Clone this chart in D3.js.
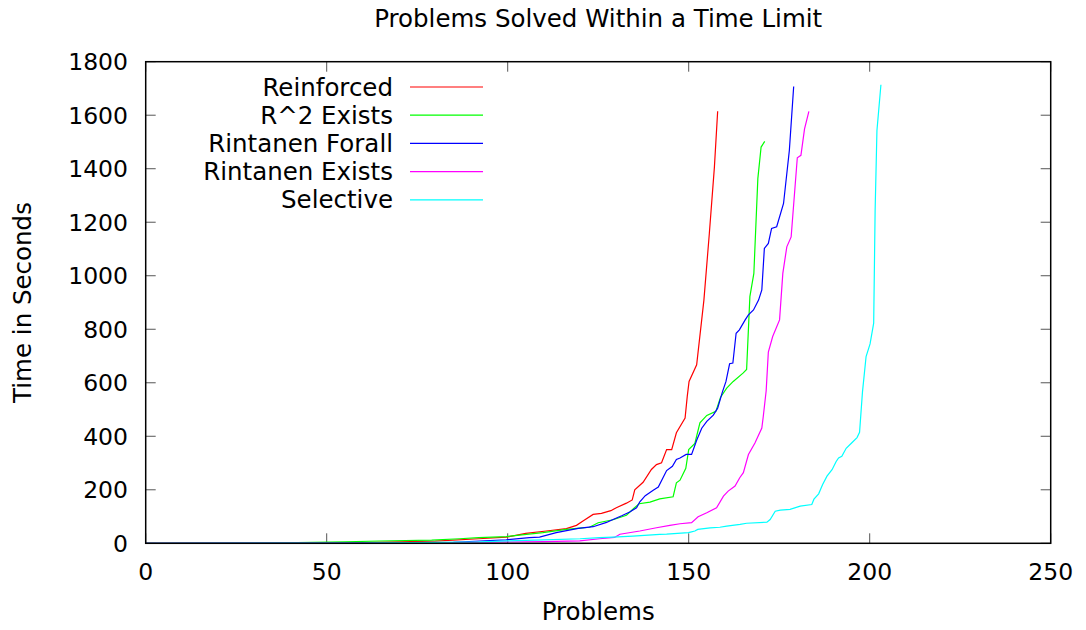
<!DOCTYPE html>
<html>
<head>
<meta charset="utf-8">
<script src="https://d3js.org/d3.v7.min.js"></script>
<style>
  body { margin: 0; background: #fff; }
  text { font-family: "DejaVu Sans", sans-serif; fill: #000; }
</style>
</head>
<body>
<div id="chart"></div>
<script>
document.addEventListener("DOMContentLoaded", function() {

  // --- Data (problem number, seconds) ---
  const reinforcedN = [0, 40, 60, 80, 92, 99.6, 105, 110.7, 116.2, 119, 120.8, 123.6, 125.9, 128.5, 130, 132.8, 134.4, 135.1, 137.4, 139.7, 141.1, 142.5, 143.9, 145.3, 146.6, 149, 149.6, 150.1, 152.2, 154.2, 155.7, 157.1, 158];
  const reinforcedT = [0, 1, 3, 8, 17, 23, 37, 46, 55, 67, 83, 108, 112, 122, 133, 150, 162, 200, 228, 276, 294, 301, 350, 350, 413, 468, 549, 605, 667, 909, 1158, 1406, 1615];

  const r2ExistsN = [0, 30, 42, 55, 64.5, 79, 86.7, 92, 99.6, 109.7, 116.2, 119.9, 122.6, 125, 129.1, 132.8, 134.8, 136.3, 139.3, 142, 145.7, 146.6, 147.6, 149.2, 150, 151.7, 153.1, 155, 157.5, 158.8, 160.5, 162.3, 165, 166, 166.9, 168, 169.1, 170, 171];
  const r2ExistsT = [0, 0.5, 2.6, 5, 8.6, 12, 17, 21, 25, 40, 52, 57, 60, 77, 88, 105, 130, 148, 154, 166, 174, 226, 236, 280, 350, 373, 450, 478, 493, 546, 580, 605, 636, 650, 922, 1009, 1363, 1481, 1502];

  const forallN = [0, 50, 70, 85, 92.2, 99.6, 106, 108.8, 113.4, 119.5, 123.6, 127.3, 129.1, 131.5, 133.7, 135.6, 136.5, 138, 140.2, 141.6, 142.9, 143.9, 145.5, 146.6, 147.6, 149.3, 150.8, 152.2, 153.6, 155, 156.8, 158, 159.3, 160.3, 161.3, 162.2, 163.1, 164, 165.6, 166.5, 167.9, 169.3, 170.2, 170.9, 172, 172.9, 174.3, 176.2, 177.8, 179];
  const forallT = [0, 0.5, 1.5, 4, 8.6, 13, 21, 23, 40, 56, 62, 78, 89, 103, 117, 133, 155, 178, 198, 210, 245, 272, 288, 313, 319, 332, 332, 385, 430, 456, 479, 505, 565, 605, 671, 674, 785, 798, 835, 854, 872, 909, 947, 1102, 1121, 1177, 1183, 1270, 1468, 1707];

  const existsN = [0, 60, 92, 110, 119.9, 125.4, 129.5, 131, 136.5, 141.1, 144.8, 147.6, 150.8, 152.6, 155, 157.7, 159.6, 160.9, 162.8, 164.1, 165.1, 166.5, 168.3, 170.2, 170.6, 171.4, 172, 173.2, 175.1, 176, 177.1, 178.3, 180, 181, 182, 183.2];
  const existsT = [0, 1, 4, 6, 9, 17, 22, 34, 46, 58, 67, 73, 77, 99, 114, 133, 176, 195, 214, 245, 264, 332, 375, 431, 474, 570, 715, 773, 835, 1009, 1108, 1145, 1441, 1450, 1549, 1614];

  const selectiveN = [0, 60, 92, 100, 110, 120, 125.4, 129.1, 134.6, 142, 143.9, 149.9, 150.5, 151.7, 152.5, 155.9, 158.6, 160.5, 164.2, 166, 171.6, 172.5, 173.9, 175.3, 178, 180.8, 184, 184.6, 185.9, 187, 188.2, 189.6, 190.7, 191.4, 192.3, 193.5, 195, 196.5, 197.2, 198, 199, 200.1, 201.1, 201.5, 202, 203.1];
  const selectiveT = [0, 1, 5, 9, 13, 17, 21, 23, 27, 33, 34, 40, 42, 46, 52, 58, 60, 64, 71, 75, 79, 89, 120, 124, 127, 139, 145, 165, 185, 220, 251, 275, 305, 319, 325, 355, 375, 395, 415, 565, 698, 745, 823, 1245, 1543, 1714];

  const seriesNames = ["Reinforced", "R^2 Exists", "Rintanen Forall", "Rintanen Exists", "Selective"];
  const seriesColors = ["#ff0000", "#00ff00", "#0000ff", "#ff00ff", "#00ffff"];
  const seriesN = [reinforcedN, r2ExistsN, forallN, existsN, selectiveN];
  const seriesT = [reinforcedT, r2ExistsT, forallT, existsT, selectiveT];

  const xTicks = [0, 50, 100, 150, 200, 250];
  const yTicks = [0, 200, 400, 600, 800, 1000, 1200, 1400, 1600, 1800];

  // --- Setup SVG ---
  const W = 1086, H = 630;
  const plot = { left: 145.7, right: 1050.7, top: 61.7, bottom: 543.3 };
  const fontSize = 24.5;   // titles, legend
  const tickFont = 23.5;   // tick numbers

  const svg = d3.select("#chart").append("svg")
    .attr("width", W)
    .attr("height", H);

  const x = d3.scaleLinear().domain([0, 250]).range([plot.left, plot.right]);
  const y = d3.scaleLinear().domain([0, 1800]).range([plot.bottom, plot.top]);

  // --- Ticks (inward, mirrored like gnuplot) ---
  const tickLen = 10;
  const ticks = svg.append("g").attr("stroke", "#555").attr("stroke-width", 1);
  xTicks.forEach(v => {
    ticks.append("line").attr("x1", x(v)).attr("x2", x(v)).attr("y1", plot.bottom).attr("y2", plot.bottom - tickLen);
    ticks.append("line").attr("x1", x(v)).attr("x2", x(v)).attr("y1", plot.top).attr("y2", plot.top + tickLen);
  });
  yTicks.forEach(v => {
    ticks.append("line").attr("x1", plot.left).attr("x2", plot.left + tickLen).attr("y1", y(v)).attr("y2", y(v));
    ticks.append("line").attr("x1", plot.right).attr("x2", plot.right - tickLen).attr("y1", y(v)).attr("y2", y(v));
  });

  // tick labels
  svg.selectAll("text.xt").data(xTicks).enter().append("text")
    .attr("class", "xt")
    .attr("x", d => x(d))
    .attr("y", 580)
    .attr("text-anchor", "middle")
    .attr("font-size", tickFont)
    .text(d => d);

  svg.selectAll("text.yt").data(yTicks).enter().append("text")
    .attr("class", "yt")
    .attr("x", 128)
    .attr("y", d => y(d) + 8.5)
    .attr("text-anchor", "end")
    .attr("font-size", tickFont)
    .text(d => d);

  // --- Lines ---
  const line = d3.line()
    .x(d => x(d[0]))
    .y(d => y(d[1]));

  seriesNames.forEach((name, i) => {
    const pts = seriesN[i].map((n, j) => [n, seriesT[i][j]]);
    svg.append("path")
      .datum(pts)
      .attr("fill", "none")
      .attr("stroke", seriesColors[i])
      .attr("stroke-width", 1.2)
      .attr("d", line);
  });

  // --- Legend ---
  seriesNames.forEach((name, i) => {
    const ly = 87 + i * 28.2;
    svg.append("text")
      .attr("x", 393)
      .attr("y", ly + 8.5)
      .attr("text-anchor", "end")
      .attr("font-size", fontSize)
      .text(name);
    svg.append("line")
      .attr("x1", 410).attr("x2", 483)
      .attr("y1", ly).attr("y2", ly)
      .attr("stroke", seriesColors[i])
      .attr("stroke-width", 1.2);
  });

  // --- Border ---
  svg.append("rect")
    .attr("x", plot.left).attr("y", plot.top)
    .attr("width", plot.right - plot.left)
    .attr("height", plot.bottom - plot.top)
    .attr("fill", "none")
    .attr("stroke", "#000")
    .attr("stroke-width", 1.5);

  // --- Titles ---
  svg.append("text")
    .attr("x", (plot.left + plot.right) / 2)
    .attr("y", 27)
    .attr("text-anchor", "middle")
    .attr("font-size", fontSize)
    .text("Problems Solved Within a Time Limit");

  svg.append("text")
    .attr("x", (plot.left + plot.right) / 2)
    .attr("y", 620)
    .attr("text-anchor", "middle")
    .attr("font-size", fontSize)
    .text("Problems");

  svg.append("text")
    .attr("transform", `translate(31, ${(plot.top + plot.bottom) / 2}) rotate(-90)`)
    .attr("text-anchor", "middle")
    .attr("font-size", fontSize)
    .text("Time in Seconds");

});
</script>
</body>
</html>
